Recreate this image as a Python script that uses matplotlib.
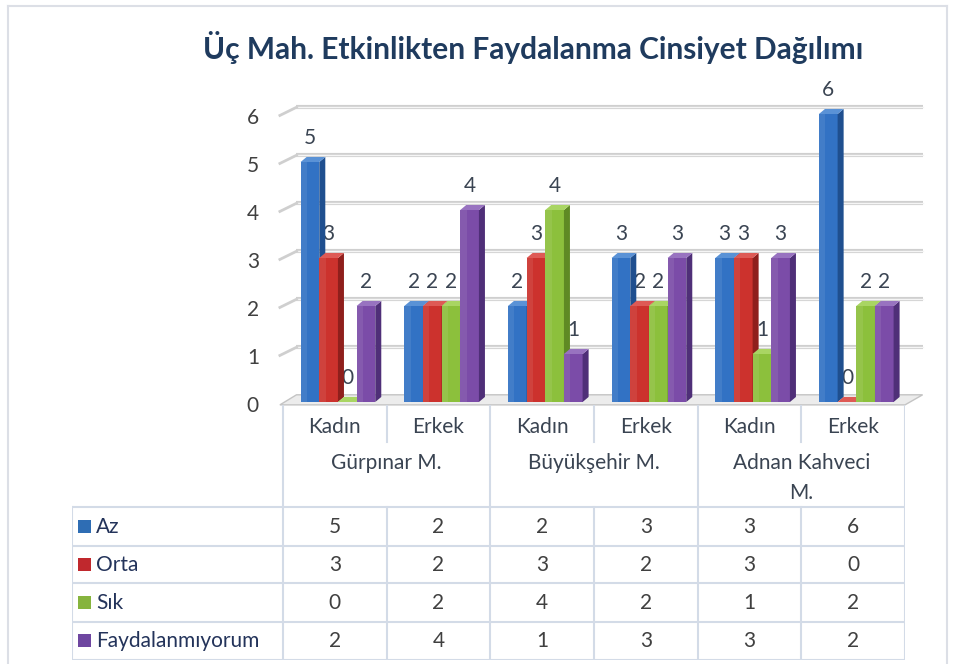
import matplotlib.pyplot as plt
from matplotlib.patches import Polygon, Rectangle

plt.rcParams['font.family'] = ['Lato', 'DejaVu Sans']

title = 'Üç Mah. Etkinlikten Faydalanma Cinsiyet Dağılımı'
groups = ['Gürpınar M.', 'Büyükşehir M.', 'Adnan Kahveci\nM.']
genders = ['Kadın', 'Erkek']
series = ['Az', 'Orta', 'Sık', 'Faydalanmıyorum']
az = [5, 2, 2, 3, 3, 6]
orta = [3, 2, 3, 2, 3, 0]
sik = [0, 2, 4, 2, 1, 2]
fayd = [2, 4, 1, 3, 3, 2]
yticks = [0, 1, 2, 3, 4, 5, 6]

data = [az, orta, sik, fayd]
front = ['#3272c4', '#cc322d', '#8cc03c', '#7b4ca8']
side = ['#1f4f8f', '#8f1f1c', '#5f8a24', '#4f2f78']
top = ['#5a92d6', '#de5a55', '#a9d563', '#9873c0']
legend_col = ['#2e6db4', '#c0282d', '#86b43e', '#6e46a0']
txt = '#3a4452'

W, H = 955, 664
fig = plt.figure(figsize=(9.55, 6.64), dpi=100)


def fbox(x0, y0, x1, y1):
    return [x0 / W, 1 - y1 / H, (x1 - x0) / W, (y1 - y0) / H]


# outer frame
for xs, ys in [([8, 8], [6, 664]), ([8, 947], [6, 6]), ([947, 947], [6, 664])]:
    fig.add_artist(plt.Line2D([x / W for x in xs], [1 - y / H for y in ys],
                              color='#dcdfe6', lw=1.5))

fig.text(533 / W, 1 - 47 / H, title, ha='center', va='center',
         fontsize=21.5, fontweight='bold', color='#1f3b5e')

# chart
ax = fig.add_axes(fbox(283, 114, 905, 402))
ax.set_xlim(0, 6)
ax.set_ylim(0, 6)
ax.axis('off')

dx, dy = 0.058, 0.105

# back wall gridlines
for v in yticks[1:]:
    ax.plot([0.13, 6.17], [v + 0.14, v + 0.14], color='#cfcfcf', lw=3,
            clip_on=False, zorder=1, solid_capstyle='butt')
    ax.plot([0.13, 6.17], [v + 0.14, v + 0.14], color='#f5f5f5', lw=1,
            clip_on=False, zorder=1)
    ax.plot([-0.03, 0.13], [v - 0.03, v + 0.14], color='#cfcfcf', lw=2,
            clip_on=False, zorder=1)

# floor
ax.add_patch(Polygon([(-0.03, -0.06), (6.0, -0.06), (6.17, 0.15), (0.13, 0.15)],
                     closed=True, fc='#ececec', ec='#c4c4c4', lw=1,
                     clip_on=False, zorder=1))

for v in yticks:
    ax.text(-0.29, v - 0.08, str(v), ha='center', va='center',
            fontsize=15, color='#404040', clip_on=False)

bw = 0.18
for k, vals in enumerate(data):
    xs = [i + 0.17 + k * bw for i in range(len(vals))]
    bars = ax.bar(xs, vals, width=bw, align='edge', color=front[k],
                  zorder=3 + k * 0.1, clip_on=False)
    for r, v in zip(bars, vals):
        x0, w, h = r.get_x(), r.get_width(), r.get_height()
        z = 3 + k * 0.1
        ax.add_patch(Polygon([(x0 + w, 0), (x0 + w + dx, dy), (x0 + w + dx, h + dy), (x0 + w, h)],
                             closed=True, fc=side[k], ec='none', zorder=z, clip_on=False))
        ax.add_patch(Polygon([(x0, h), (x0 + dx, h + dy), (x0 + w + dx, h + dy), (x0 + w, h)],
                             closed=True, fc=top[k], ec='none', zorder=z, clip_on=False))
        ax.add_patch(Rectangle((x0, 0), w * 0.35, h, fc='white', alpha=0.08,
                               ec='none', zorder=z, clip_on=False))
        ax.text(x0 + w / 2, h + 0.5, str(v), ha='center', va='center',
                fontsize=15, color=txt, zorder=2, clip_on=False)

# data table under the chart
tax = fig.add_axes(fbox(72, 405, 905, 660))
tax.set_xlim(-2.035, 6)
tax.set_ylim(660, 405)
tax.axis('off')

lc = '#d3dbe7'
rows_y = [507, 546, 583, 622, 660]
for y in rows_y:
    tax.plot([-2.035, 6], [y, y], color=lc, lw=1.5)
for x in [0, 2, 4, 6]:
    tax.plot([x, x], [405, 660], color=lc, lw=1.5)
for x in [1, 3, 5]:
    tax.plot([x, x], [405, 442], color=lc, lw=1.5)
    tax.plot([x, x], [507, 660], color=lc, lw=1.5)
tax.plot([-2.035, -2.035], [507, 660], color=lc, lw=1.5)

for i in range(6):
    tax.text(i + 0.5, 427, genders[i % 2], ha='center', va='center',
             fontsize=15, color=txt)
for j, g in enumerate(groups):
    tax.text(2 * j + 1, 453, g, ha='center', va='top', fontsize=15,
             color=txt, linespacing=1.6)

row_c = [527, 565, 603, 641]
for k, vals in enumerate(data):
    tax.add_patch(Rectangle((-1.977, row_c[k] - 6.5), 0.13, 13,
                            fc=legend_col[k], ec='none'))
    tax.text(-1.80, row_c[k], series[k], ha='left', va='center',
             fontsize=15, color='#23335a')
    for i, v in enumerate(vals):
        tax.text(i + 0.5, row_c[k], str(v), ha='center', va='center',
                 fontsize=15, color='#404040')

fig.savefig('out.png', dpi=100)
